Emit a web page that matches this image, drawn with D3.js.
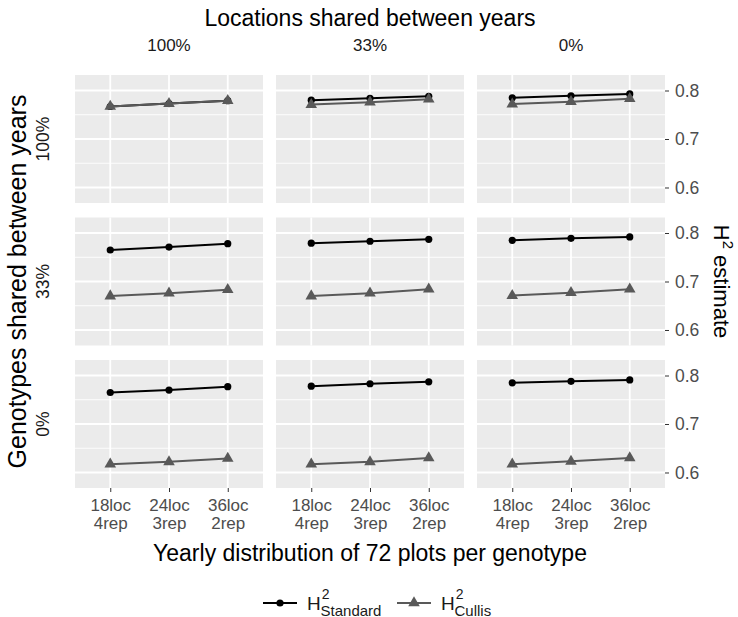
<!DOCTYPE html>
<html>
<head>
<meta charset="utf-8">
<script src="https://cdn.jsdelivr.net/npm/d3@7"></script>
<style>
  body { margin: 0; background: #fff; }
  text { font-family: "Liberation Sans", Arial, Helvetica, sans-serif; }
</style>
</head>
<body>
<svg id="chart" width="738" height="617"></svg>
<script>
// Facet levels
const locationShare = ["100%", "33%", "0%"];   // columns
const genotypeShare = ["100%", "33%", "0%"];   // rows

// Yearly design of the 72 plots per genotype (x axis)
const designLoc = ["18loc", "24loc", "36loc"];
const designRep = ["4rep", "3rep", "2rep"];

const yTicks = [0.6, 0.7, 0.8];
const yMinor = [0.65, 0.75];

// Heritability estimates, indexed [genotype row][location column][design]
const hStandard = [
  [[0.767, 0.773, 0.779], [0.780, 0.784, 0.788], [0.785, 0.789, 0.793]],
  [[0.765, 0.771, 0.778], [0.779, 0.783, 0.787], [0.785, 0.789, 0.792]],
  [[0.765, 0.770, 0.777], [0.778, 0.783, 0.787], [0.785, 0.788, 0.791]]
];
const hCullis = [
  [[0.767, 0.773, 0.779], [0.771, 0.776, 0.782], [0.772, 0.777, 0.783]],
  [[0.670, 0.676, 0.683], [0.670, 0.676, 0.684], [0.671, 0.677, 0.684]],
  [[0.617, 0.622, 0.629], [0.617, 0.622, 0.630], [0.617, 0.623, 0.630]]
];

// Layout
const P = { left: 75, top: 75, w: 188, h: 128, gapX: 13, gapY: 14.5 };
const colX = i => P.left + i * (P.w + P.gapX);
const rowY = j => P.top + j * (P.h + P.gapY);
const right = colX(2) + P.w;
const bottom = rowY(2) + P.h;
const FONT = '"Liberation Sans", Arial, Helvetica, sans-serif';

const colStd = "#000000", colCul = "#595959";

const svg = d3.select("#chart");

const x = d3.scalePoint().domain(designLoc).range([0, P.w]).padding(0.6);
const y = d3.scaleLinear().domain([0.568, 0.832]).range([P.h, 0]);

const line = d3.line().x((d, i) => x(designLoc[i])).y(d => y(d));
const tri = d3.symbol().type(d3.symbolTriangle).size(58);

genotypeShare.forEach((g, r) => {
  locationShare.forEach((l, c) => {
    const p = svg.append("g").attr("transform", `translate(${colX(c)},${rowY(r)})`);
    p.append("rect").attr("width", P.w).attr("height", P.h).attr("fill", "#ebebeb");
    p.selectAll(".ymin").data(yMinor).join("line")
      .attr("x1", 0).attr("x2", P.w).attr("y1", d => y(d)).attr("y2", d => y(d))
      .attr("stroke", "#fff").attr("stroke-width", 0.9);
    p.selectAll(".ymaj").data(yTicks).join("line")
      .attr("x1", 0).attr("x2", P.w).attr("y1", d => y(d)).attr("y2", d => y(d))
      .attr("stroke", "#fff").attr("stroke-width", 1.8);
    p.selectAll(".xmaj").data(designLoc).join("line")
      .attr("y1", 0).attr("y2", P.h).attr("x1", d => x(d)).attr("x2", d => x(d))
      .attr("stroke", "#fff").attr("stroke-width", 1.8);

    // Standard series
    const s = hStandard[r][c], cu = hCullis[r][c];
    p.append("path").attr("d", line(s)).attr("fill", "none")
      .attr("stroke", colStd).attr("stroke-width", 2);
    p.selectAll(".pt").data(s).join("circle")
      .attr("cx", (d, i) => x(designLoc[i])).attr("cy", d => y(d)).attr("r", 3.6)
      .attr("fill", colStd);
    // Cullis series
    p.append("path").attr("d", line(cu)).attr("fill", "none")
      .attr("stroke", colCul).attr("stroke-width", 2);
    p.selectAll(".tri").data(cu).join("path")
      .attr("d", tri)
      .attr("transform", (d, i) => `translate(${x(designLoc[i])},${y(d)})`)
      .attr("fill", colCul);

    // Right axis on last column
    if (c === 2) {
      const ax = p.append("g").attr("transform", `translate(${P.w},0)`)
        .call(d3.axisRight(y).tickValues(yTicks).tickFormat(d3.format(".1f")).tickSize(4).tickPadding(6));
      ax.select(".domain").remove();
      ax.selectAll(".tick line").attr("stroke", "#333").attr("stroke-width", 1);
      ax.selectAll(".tick text").attr("fill", "#4d4d4d").attr("font-size", 17.5)
        .style("font-family", FONT);
    }
    // Bottom axis on last row
    if (r === 2) {
      const ax = p.append("g").attr("transform", `translate(0,${P.h})`)
        .call(d3.axisBottom(x).tickSize(4).tickPadding(7).tickFormat(() => ""));
      ax.select(".domain").remove();
      ax.selectAll(".tick line").attr("stroke", "#333").attr("stroke-width", 1);
      ax.selectAll(".tick text").each(function (d, i) {
        const t = d3.select(this).attr("fill", "#4d4d4d").attr("font-size", 17)
          .style("font-family", FONT);
        t.append("tspan").attr("x", 0).attr("dy", "0.71em").text(designLoc[i]);
        t.append("tspan").attr("x", 0).attr("dy", "1.08em").text(designRep[i]);
      });
    }
  });
});

// Column strip labels
svg.selectAll(".colstrip").data(locationShare).join("text")
  .attr("x", (d, i) => colX(i) + P.w / 2).attr("y", 51)
  .attr("text-anchor", "middle").attr("font-size", 17).attr("fill", "#1a1a1a")
  .text(d => d);
// Row strip labels
svg.selectAll(".rowstrip").data(genotypeShare).join("text")
  .attr("transform", (d, i) => `translate(49,${rowY(i) + P.h / 2}) rotate(-90)`)
  .attr("text-anchor", "middle").attr("font-size", 17.5).attr("fill", "#1a1a1a")
  .text(d => d);

// Titles
svg.append("text").attr("x", (P.left + right) / 2).attr("y", 26)
  .attr("text-anchor", "middle").attr("font-size", 23).attr("fill", "#000")
  .text("Locations shared between years");
svg.append("text").attr("transform", `translate(26,${(P.top + bottom) / 2}) rotate(-90)`)
  .attr("text-anchor", "middle").attr("font-size", 25).attr("fill", "#000")
  .text("Genotypes shared between years");
svg.append("text").attr("x", (P.left + right) / 2).attr("y", 561)
  .attr("text-anchor", "middle").attr("font-size", 23).attr("fill", "#000")
  .text("Yearly distribution of 72 plots per genotype");
const yt = svg.append("text").attr("transform", `translate(714,${(P.top + bottom) / 2}) rotate(90)`)
  .attr("text-anchor", "middle").attr("font-size", 22).attr("fill", "#000");
yt.append("tspan").text("H");
yt.append("tspan").attr("font-size", 15).attr("dy", -9).text("2");
yt.append("tspan").attr("dy", 9).text(" estimate");

// Legend
const leg = svg.append("g").attr("transform", "translate(0,603)");
const keys = [
  { x: 263, sub: "Standard", color: colStd, shape: "circle" },
  { x: 397, sub: "Cullis", color: colCul, shape: "triangle" }
];
keys.forEach(k => {
  leg.append("line").attr("x1", k.x).attr("x2", k.x + 34).attr("y1", 0).attr("y2", 0)
    .attr("stroke", k.color).attr("stroke-width", 2);
  if (k.shape === "circle") {
    leg.append("circle").attr("cx", k.x + 17).attr("cy", 0).attr("r", 3.6).attr("fill", k.color);
  } else {
    leg.append("path").attr("d", tri).attr("transform", `translate(${k.x + 17},0)`).attr("fill", k.color);
  }
  const t = leg.append("text").attr("x", k.x + 44).attr("y", 6.5).attr("font-size", 19).attr("fill", "#1a1a1a");
  t.append("tspan").text("H");
  t.append("tspan").attr("font-size", 14).attr("dy", -11).attr("dx", 1).text("2");
  t.append("tspan").attr("font-size", 15).attr("dy", 17).attr("dx", -9).text(k.sub);
});
</script>
</body>
</html>
